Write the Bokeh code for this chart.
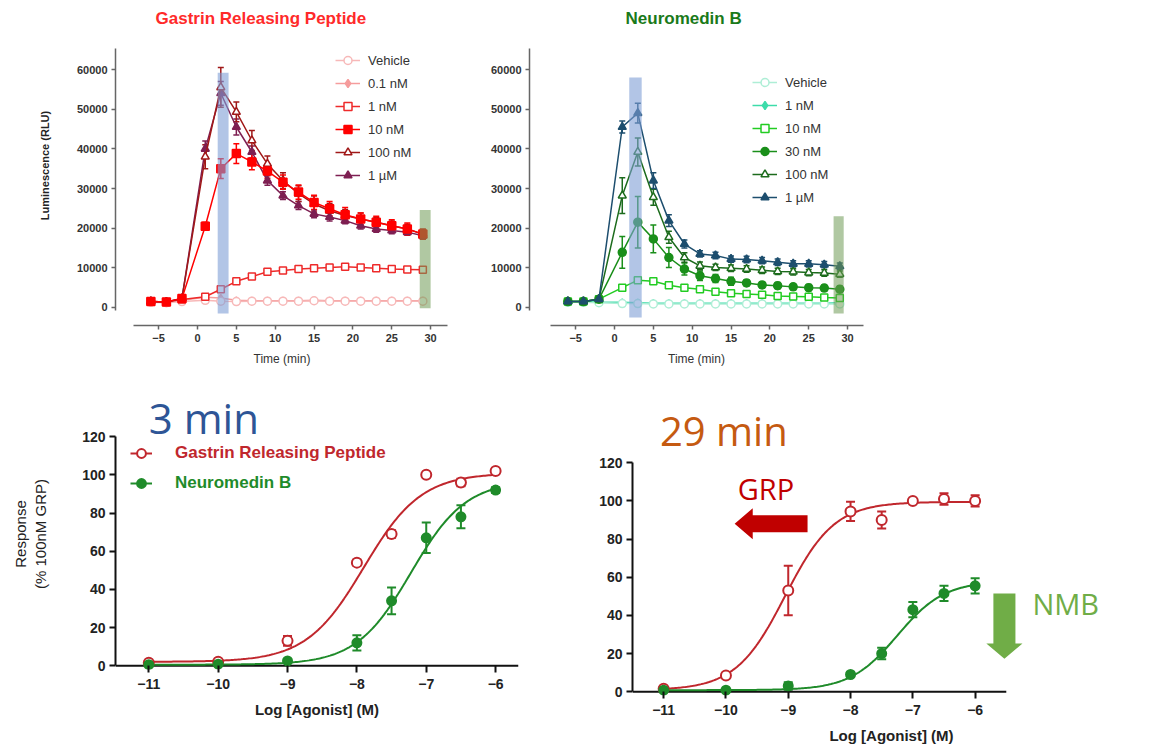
import numpy as np
from bokeh.plotting import figure
from bokeh.layouts import row, column
from bokeh.models import (ColumnDataSource, Whisker, TeeHead, Legend, LegendItem,
                          FixedTicker, BoxAnnotation, Label, Spacer)
from bokeh.embed import file_html
from bokeh.resources import INLINE

# ---------------- data: time courses (RLU) ----------------
time_min = [-6, -4, -2, 1, 3, 5, 7, 9, 11, 13, 15, 17, 19, 21, 23, 25, 27, 29]

grp_vehicle = [1300, 1200, 1500, 1800, 1600, 1500, 1600, 1600, 1600, 1600, 1700, 1600, 1600, 1600, 1600, 1600, 1600, 1600]
grp_0p1nM = [1500, 1400, 1800, 2600, 2400, 1800, 1700, 1700, 1700, 1700, 1800, 1700, 1700, 1700, 1700, 1700, 1700, 1700]
grp_1nM = [1500, 1400, 2000, 2700, 4600, 6600, 7800, 9000, 9300, 9700, 9900, 10100, 10300, 10100, 9900, 9700, 9600, 9500]
grp_10nM = [1500, 1400, 2300, 20500, 35000, 38800, 36700, 34400, 31600, 29100, 26500, 24900, 23400, 22300, 21500, 20600, 19800, 18500]
grp_100nM = [1500, 1400, 2300, 38000, 55500, 49300, 42100, 36200, 32000, 28700, 26100, 24400, 23200, 22300, 21500, 20600, 19800, 18500]
grp_1uM = [1500, 1400, 2300, 40000, 54000, 45500, 39200, 32000, 28200, 25700, 23600, 22800, 21900, 20600, 19800, 19400, 19000, 18100]
grp_10nM_err = [0, 0, 0, 1000, 2500, 2500, 2000, 1800, 1800, 1800, 1800, 1800, 1800, 1500, 1500, 1500, 1500, 1200]
grp_100nM_err = [0, 0, 0, 3000, 5000, 2500, 2500, 2000, 2000, 2000, 2000, 1800, 1500, 1500, 1200, 1200, 1200, 1200]
grp_1uM_err = [0, 0, 0, 2000, 3000, 2000, 1500, 1200, 1000, 1000, 1000, 1000, 800, 800, 800, 800, 800, 800]

nmb_vehicle = [1300, 1300, 1200, 1000, 1000, 900, 900, 900, 900, 900, 900, 900, 900, 900, 900, 900, 900, 900]
nmb_1nM = [1500, 1500, 1400, 1300, 1200, 1100, 1100, 1100, 1100, 1100, 1100, 1100, 1100, 1100, 1100, 1100, 1100, 1200]
nmb_10nM = [1500, 1500, 2100, 5000, 6900, 6600, 5600, 5000, 4600, 4000, 3600, 3400, 3200, 2900, 2800, 2700, 2500, 2400]
nmb_30nM = [1500, 1500, 2100, 13900, 21500, 17300, 12600, 9700, 8000, 7300, 6600, 6200, 5700, 5500, 5200, 5000, 4900, 4600]
nmb_100nM = [1500, 1500, 2100, 28200, 39200, 27800, 17700, 12600, 10500, 10100, 9900, 9700, 9400, 9100, 9000, 8800, 8700, 8400]
nmb_1uM = [1500, 1500, 2100, 45500, 49000, 32000, 21900, 16000, 13500, 13100, 12200, 12100, 11800, 11400, 11000, 11000, 10800, 10400]
nmb_30nM_err = [0, 0, 0, 4000, 6500, 3500, 2500, 1500, 1200, 1000, 1000, 800, 800, 800, 800, 800, 800, 800]
nmb_100nM_err = [0, 0, 0, 4500, 3500, 2000, 1500, 1200, 1000, 800, 800, 800, 800, 800, 800, 800, 800, 800]
nmb_1uM_err = [0, 0, 0, 1500, 2500, 2000, 1500, 1000, 800, 800, 800, 800, 800, 800, 800, 800, 800, 800]

# ---------------- data: concentration–response ----------------
log_conc = [-11, -10, -9, -8, -7.5, -7, -6.5, -6]
grp_3min = [1.5, 2, 13, 54, 69, 100, 96, 102]
grp_3min_err = [0.5, 0.5, 2.5, 1.5, 2, 0, 2, 1.5]
nmb_3min = [0.5, 0.8, 2.5, 12, 34, 67, 78, 92]
nmb_3min_err = [0, 0, 1, 4, 7, 8, 6, 1.5]
grp_29min = [1.5, 8.5, 53, 94.5, 90, 100, 101, 100]
grp_29min_err = [0.5, 1, 13, 5, 4.5, 1, 3, 3]
nmb_29min = [0.8, 0.8, 3, 9, 20, 43, 51.5, 55.5]
nmb_29min_err = [0, 0, 2, 1, 3, 4, 4, 4]

# 4-parameter logistic fits: (bottom, top, logEC50, hill)
fit_grp_3min = (2.0, 101.0, -7.9, 1.05)
fit_nmb_3min = (0.5, 97.0, -7.22, 1.1)
fit_grp_29min = (0.8, 99.5, -9.05, 1.1)
fit_nmb_29min = (0.8, 58.0, -7.25, 1.15)

FONT = "Liberation Sans"


def add_series(p, x, y, err, color, marker, filled, size, lw, head=6, draw_line=True):
    line = p.line(x, y, line_color=color, line_width=lw) if draw_line else None
    if err is not None:
        xs = [xi for xi, e in zip(x, err) if e > 0]
        up = [yi + e for yi, e in zip(y, err) if e > 0]
        lo = [yi - e for yi, e in zip(y, err) if e > 0]
        src = ColumnDataSource(dict(x=xs, upper=up, lower=lo))
        w = Whisker(source=src, base="x", upper="upper", lower="lower",
                    line_color=color, line_width=lw,
                    upper_head=TeeHead(size=head, line_color=color, line_width=lw),
                    lower_head=TeeHead(size=head, line_color=color, line_width=lw))
        p.add_layout(w)
    sc = p.scatter(x, y, marker=marker, size=size, line_color=color,
                   fill_color=color if filled else "white", line_width=lw)
    return [r for r in (line, sc) if r is not None]


def style_time_axes(p, ylabel):
    p.xgrid.visible = False
    p.ygrid.visible = False
    p.outline_line_color = None
    for ax in (p.xaxis[0], p.yaxis[0]):
        ax.axis_line_color = "#666666"
        ax.axis_line_width = 1.5
        ax.major_tick_line_color = "#666666"
        ax.major_tick_line_width = 1.5
        ax.major_tick_out = 4
        ax.major_tick_in = 0
        ax.minor_tick_line_color = None
        ax.major_label_text_font = FONT
        ax.major_label_text_font_style = "bold"
        ax.major_label_text_font_size = "11px"
        ax.major_label_text_color = "#333333"
        ax.major_label_standoff = 4
    p.xaxis.ticker = FixedTicker(ticks=[-5, 0, 5, 10, 15, 20, 25, 30])
    p.yaxis.ticker = FixedTicker(ticks=[0, 10000, 20000, 30000, 40000, 50000, 60000])
    p.xaxis.bounds = (-8.2, 32.2)
    p.yaxis.bounds = (-700, 65290)
    p.xaxis.axis_label = "Time (min)"
    p.xaxis.axis_label_text_font = FONT
    p.xaxis.axis_label_text_font_style = "normal"
    p.xaxis.axis_label_text_font_size = "12px"
    p.xaxis.axis_label_text_color = "#333333"
    p.xaxis.axis_label_standoff = 7
    if ylabel:
        p.yaxis.axis_label = ylabel
        p.yaxis.axis_label_text_font = FONT
        p.yaxis.axis_label_text_font_style = "bold"
        p.yaxis.axis_label_text_font_size = "11px"
        p.yaxis.axis_label_text_color = "#222222"
        p.yaxis.axis_label_standoff = 23


def make_legend(items, loc, font_size="13px", color="#333333", glyph_w=25, standoff=8,
                style="normal", lh=20):
    return Legend(items=items, location=loc, padding=0, spacing=3, margin=0,
                  label_height=lh, glyph_height=lh, glyph_width=glyph_w,
                  label_standoff=standoff, background_fill_alpha=0,
                  border_line_color=None, label_text_font=FONT,
                  label_text_font_size=font_size, label_text_color=color,
                  label_text_font_style=style)


def panel_title(p, x, y, text, color):
    p.add_layout(Label(x=x, y=y, text=text, text_baseline="middle", text_align="left",
                       text_font=FONT, text_font_style="bold", text_font_size="17px",
                       text_color=color))


TOP_Y_RANGE = (-4538, 76135)

# ---------------- top-left: GRP time course ----------------
p1 = figure(width=470, height=368, x_range=(-10.55, 32.3), y_range=TOP_Y_RANGE,
            min_border_left=115, min_border_right=22, min_border_top=5, min_border_bottom=43,
            output_backend="svg", toolbar_location=None)
style_time_axes(p1, "Luminescence (RLU)")
panel_title(p1, -5.4, 72850, "Gastrin Releasing Peptide", "#ff2a2a")

r_01 = add_series(p1, time_min, grp_0p1nM, None, "#f59c9c", "diamond", True, 7, 1.5)
r_v = add_series(p1, time_min, grp_vehicle, None, "#f7b8b8", "circle", False, 8, 1.5)
r_1 = add_series(p1, time_min, grp_1nM, None, "#ee2a2a", "square", False, 7, 1.5)
r_1u = add_series(p1, time_min, grp_1uM, grp_1uM_err, "#7e1f52", "triangle", True, 8, 1.5)
r_100 = add_series(p1, time_min, grp_100nM, grp_100nM_err, "#a01818", "triangle", False, 8, 1.5)
r_10 = add_series(p1, time_min, grp_10nM, grp_10nM_err, "#ff0000", "square", True, 8, 1.5)

p1.add_layout(BoxAnnotation(left=2.6, right=4.0, bottom=-1500, top=59200,
                            fill_color="#7f9fd6", fill_alpha=0.6, line_color=None, level="overlay"))
p1.add_layout(BoxAnnotation(left=28.6, right=30.0, bottom=-200, top=24600,
                            fill_color="#6f9a55", fill_alpha=0.55, line_color=None, level="overlay"))

p1.add_layout(make_legend([
    LegendItem(label="Vehicle", renderers=r_v),
    LegendItem(label="0.1 nM", renderers=r_01),
    LegendItem(label="1 nM", renderers=r_1),
    LegendItem(label="10 nM", renderers=r_10),
    LegendItem(label="100 nM", renderers=r_100),
    LegendItem(label="1 µM", renderers=r_1u),
], (220, 140)))

# ---------------- top-right: NMB time course ----------------
p2 = figure(width=688, height=368, x_range=(-10.94, 32.05), y_range=TOP_Y_RANGE,
            min_border_left=59, min_border_right=295, min_border_top=5, min_border_bottom=43,
            output_backend="svg", toolbar_location=None)
style_time_axes(p2, None)
panel_title(p2, 1.42, 72850, "Neuromedin B", "#1a7a1a")

n_1 = add_series(p2, time_min, nmb_1nM, None, "#3ddcaa", "diamond", True, 7, 1.5)
n_v = add_series(p2, time_min, nmb_vehicle, None, "#aeeed6", "circle", False, 8, 1.5)
n_10 = add_series(p2, time_min, nmb_10nM, None, "#22cc22", "square", False, 7, 1.5)
n_30 = add_series(p2, time_min, nmb_30nM, nmb_30nM_err, "#1a8f1a", "circle", True, 8, 1.5)
n_100 = add_series(p2, time_min, nmb_100nM, nmb_100nM_err, "#1c6b1c", "triangle", False, 8, 1.5)
n_1u = add_series(p2, time_min, nmb_1uM, nmb_1uM_err, "#1d4e6e", "triangle", True, 8, 1.5)

p2.add_layout(BoxAnnotation(left=1.9, right=3.5, bottom=-2500, top=58000,
                            fill_color="#7f9fd6", fill_alpha=0.6, line_color=None, level="overlay"))
p2.add_layout(BoxAnnotation(left=28.2, right=29.5, bottom=-1500, top=23000,
                            fill_color="#6f9a55", fill_alpha=0.55, line_color=None, level="overlay"))

p2.add_layout(make_legend([
    LegendItem(label="Vehicle", renderers=n_v),
    LegendItem(label="1 nM", renderers=n_1),
    LegendItem(label="10 nM", renderers=n_10),
    LegendItem(label="30 nM", renderers=n_30),
    LegendItem(label="100 nM", renderers=n_100),
    LegendItem(label="1 µM", renderers=n_1u),
], (223, 118)))


# ---------------- bottom panels ----------------
def logistic(params, x):
    bottom, top, logec50, hill = params
    return bottom + (top - bottom) / (1 + 10 ** ((logec50 - x) * hill))


def style_cr_axes(p, ylabel, xb):
    p.xgrid.visible = False
    p.ygrid.visible = False
    p.outline_line_color = None
    for ax in (p.xaxis[0], p.yaxis[0]):
        ax.axis_line_color = "#111111"
        ax.axis_line_width = 2
        ax.major_tick_line_color = "#111111"
        ax.major_tick_line_width = 2
        ax.major_tick_out = 6
        ax.major_tick_in = 0
        ax.minor_tick_line_color = None
        ax.major_label_text_font = FONT
        ax.major_label_text_font_style = "bold"
        ax.major_label_text_font_size = "14px"
        ax.major_label_text_color = "#222222"
        ax.major_label_standoff = 4
    # x axis sits at the frame bottom (y=-2); its line is drawn at y=0 below
    p.xaxis.axis_line_color = None
    p.xaxis.major_tick_in = 4
    p.xaxis.major_tick_out = 3
    p.xaxis.major_label_standoff = 6
    p.xaxis.ticker = FixedTicker(ticks=[-11, -10, -9, -8, -7, -6])
    p.yaxis.ticker = FixedTicker(ticks=[0, 20, 40, 60, 80, 100, 120])
    p.yaxis.bounds = (0, 120)
    p.segment(x0=[xb[0]], y0=[0], x1=[xb[1]], y1=[0], line_color="#111111", line_width=2)
    p.xaxis.axis_label = "Log [Agonist] (M)"
    p.xaxis.axis_label_text_font = FONT
    p.xaxis.axis_label_text_font_style = "bold"
    p.xaxis.axis_label_text_font_size = "15px"
    p.xaxis.axis_label_text_color = "#222222"
    p.xaxis.axis_label_standoff = 9
    if ylabel:
        p.yaxis.axis_label = ylabel
        p.yaxis.axis_label_text_font = FONT
        p.yaxis.axis_label_text_font_style = "normal"
        p.yaxis.axis_label_text_font_size = "15px"
        p.yaxis.axis_label_text_color = "#222222"
        p.yaxis.axis_label_standoff = 30


GRP_RED = "#c0272d"
NMB_GREEN = "#1f8b2a"
x_fit = np.linspace(-11, -6, 200)

p3 = figure(width=580, height=355, x_range=(-11.48, -5.67), y_range=(-2, 140),
            min_border_left=115, min_border_right=62, min_border_top=30, min_border_bottom=54,
            output_backend="svg", toolbar_location=None)
style_cr_axes(p3, "Response\n(% 100nM GRP)", (-11.48, -5.67))

g3_line = p3.line(x_fit, logistic(fit_grp_3min, x_fit), line_color=GRP_RED, line_width=2)
n3_line = p3.line(x_fit, logistic(fit_nmb_3min, x_fit), line_color=NMB_GREEN, line_width=2)
g3 = add_series(p3, log_conc, grp_3min, grp_3min_err, GRP_RED, "circle", False, 10, 2, head=9, draw_line=False)
n3 = add_series(p3, log_conc, nmb_3min, nmb_3min_err, NMB_GREEN, "circle", True, 9, 2, head=9, draw_line=False)

p3.add_layout(Label(x=-11.0, y=130.2, text="3 min", text_baseline="middle", text_align="left",
                    text_font="Open Sans", text_font_size="42px", text_color="#2e5596"))

p3.add_layout(make_legend([LegendItem(label="Gastrin Releasing Peptide", renderers=[g3_line] + g3)],
                          (15, 204), font_size="17px", color=GRP_RED, glyph_w=22, standoff=23,
                          style="bold", lh=24))
p3.add_layout(make_legend([LegendItem(label="Neuromedin B", renderers=[n3_line] + n3)],
                          (15, 174), font_size="17px", color=NMB_GREEN, glyph_w=22, standoff=23,
                          style="bold", lh=24))

p4 = figure(width=572, height=354, x_range=(-11.5, -3.185), y_range=(-2, 150),
            min_border_left=52, min_border_right=2, min_border_top=11, min_border_bottom=53,
            output_backend="svg", toolbar_location=None)
style_cr_axes(p4, None, (-11.5, -5.5))

p4.line(x_fit, logistic(fit_grp_29min, x_fit), line_color=GRP_RED, line_width=2)
p4.line(x_fit, logistic(fit_nmb_29min, x_fit), line_color=NMB_GREEN, line_width=2)
add_series(p4, log_conc, grp_29min, grp_29min_err, GRP_RED, "circle", False, 10, 2, head=9, draw_line=False)
add_series(p4, log_conc, nmb_29min, nmb_29min_err, NMB_GREEN, "circle", True, 9, 2, head=9, draw_line=False)

p4.add_layout(Label(x=-11.06, y=136.8, text="29 min", text_baseline="middle", text_align="left",
                    text_font="Open Sans", text_font_size="40px", text_color="#c55a11"))

# shift arrows (annotation shapes)
a = dict(tip=-9.86, base=-9.57, tail=-8.69, yc=88, shaft=4.45, head=8.1)
p4.patch([a["tip"], a["base"], a["base"], a["tail"], a["tail"], a["base"], a["base"]],
         [a["yc"], a["yc"] + a["head"], a["yc"] + a["shaft"], a["yc"] + a["shaft"],
          a["yc"] - a["shaft"], a["yc"] - a["shaft"], a["yc"] - a["head"]],
         fill_color="#c00000", line_color=None)
b = dict(xc=-5.53, top=51.4, base=25.2, tip=17.3, shaft=0.177, head=0.29)
p4.patch([b["xc"] - b["shaft"], b["xc"] + b["shaft"], b["xc"] + b["shaft"], b["xc"] + b["head"],
          b["xc"], b["xc"] - b["head"], b["xc"] - b["shaft"]],
         [b["top"], b["top"], b["base"], b["base"], b["tip"], b["base"], b["base"]],
         fill_color="#70ad47", line_color=None)
p4.add_layout(Label(x=-9.81, y=106.4, text="GRP", text_baseline="middle", text_align="left",
                    text_font="Open Sans", text_font_size="29px", text_color="#c00000"))
p4.add_layout(Label(x=-5.08, y=46, text="NMB", text_baseline="middle", text_align="left",
                    text_font="Open Sans", text_font_size="29px", text_color="#70ad47"))

layout = column(row(p1, p2), row(p3, column(Spacer(width=572, height=26), p4)))
open("out.html", "w").write(file_html(layout, INLINE))
